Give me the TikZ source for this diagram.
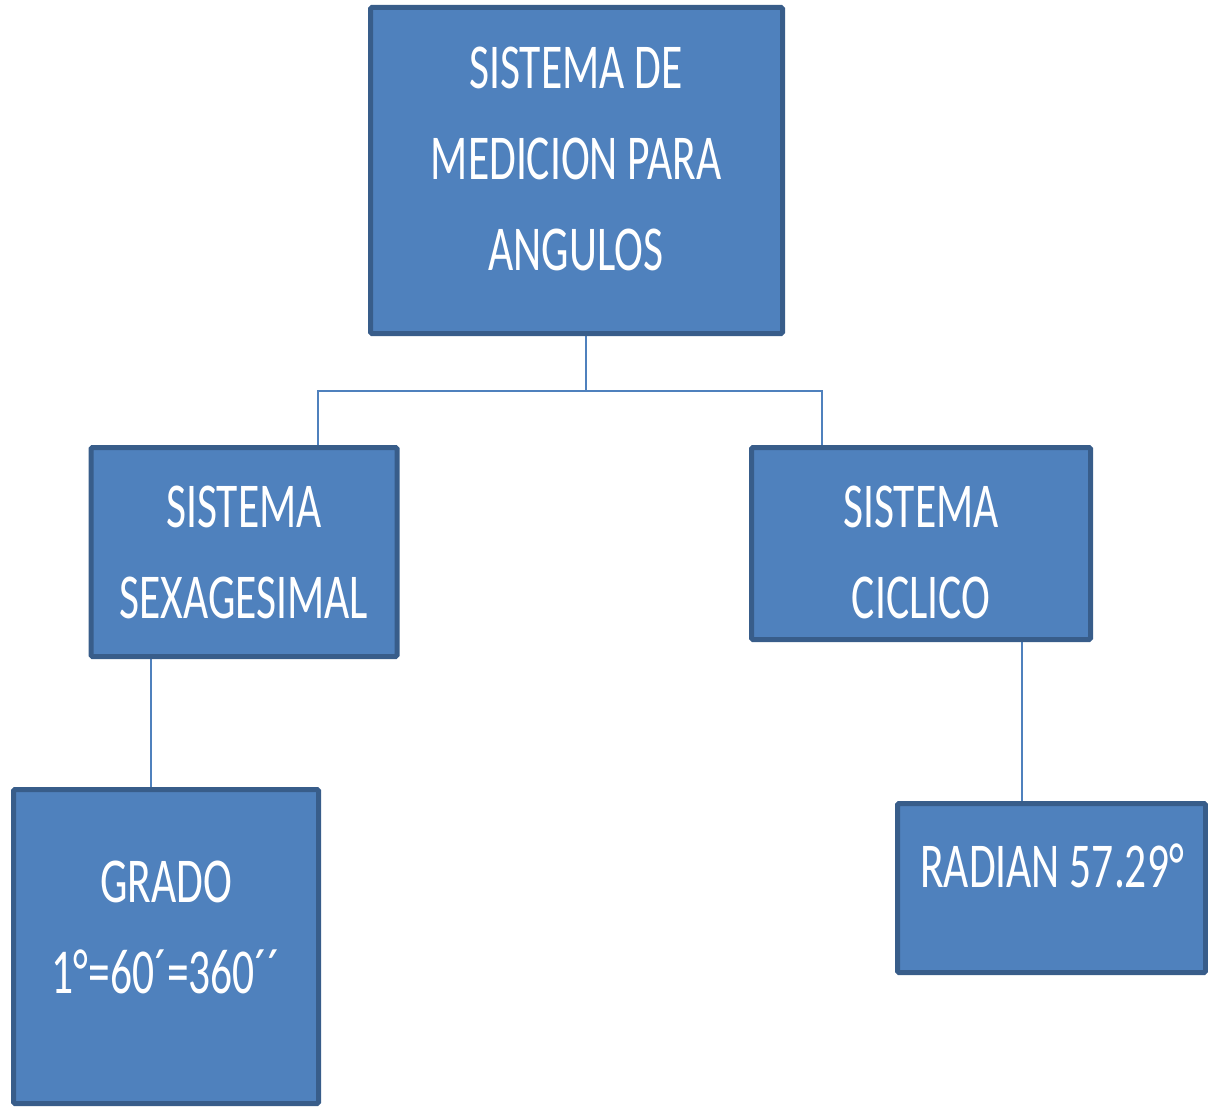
\documentclass[tikz,border=0pt]{standalone}
\usepackage{fontspec}
\usepackage{tikz}
\usetikzlibrary{backgrounds}
\newfontfamily\cajafont[FakeStretch=0.68]{Carlito}
\definecolor{relleno}{HTML}{4F81BD}
\definecolor{borde}{HTML}{385D8A}

\begin{document}
\begin{tikzpicture}[x=1pt, y=-1pt,
        caja/.style={draw=borde, fill=relleno, line width=5pt, rounded corners=1.5pt, inner sep=0pt, outer sep=0pt},
        texto/.style={text=white, align=center, inner sep=0pt, font=\cajafont\fontsize{64}{91}\selectfont},
        conector/.style={draw=relleno, line width=2pt}]
        \useasboundingbox (0,0) rectangle (1208,1108);

        \node[caja, minimum width=412pt, minimum height=326pt] (medicion) at (576.5,170.5) {};
        \node[caja, minimum width=306pt, minimum height=209pt] (sexag) at (244,552) {};
        \node[caja, minimum width=339pt, minimum height=192pt] (ciclico) at (921,543.5) {};
        \node[caja, minimum width=305pt, minimum height=314pt] (grado) at (166,946.5) {};
        \node[caja, minimum width=308pt, minimum height=169pt] (radian) at (1051.5,888) {};

        \node[texto] (medicion-t) at (576,158.5) {SISTEMA DE\\MEDICION PARA\\ANGULOS};
        \node[texto] (sexag-t) at (244,552) {SISTEMA\\SEXAGESIMAL};
        \node[texto] (ciclico-t) at (921,552) {SISTEMA\\CICLICO};
        \node[texto] (grado-t) at (166,927) {GRADO\\1°=60´=360´´};
        \node[texto] (radian-t) at (1052,865.5) {RADIAN 57.29°};

        \coordinate (rama) at (586,391);
        \coordinate (ramaS) at (318,391);
        \coordinate (ramaC) at (822,391);
        \coordinate (bajaS) at (151,0);
        \coordinate (bajaC) at (1022,0);

        \begin{scope}[on background layer]
        \draw[conector] (rama |- medicion.south) -- (rama);
        \draw[conector] (ramaS |- sexag.north) -- (ramaS) -- (ramaC) -- (ramaC |- ciclico.north);
        \draw[conector] (bajaS |- sexag.south) -- (bajaS |- grado.north);
        \draw[conector] (bajaC |- ciclico.south) -- (bajaC |- radian.north);
        \end{scope}
    \end{tikzpicture}
\end{document}
